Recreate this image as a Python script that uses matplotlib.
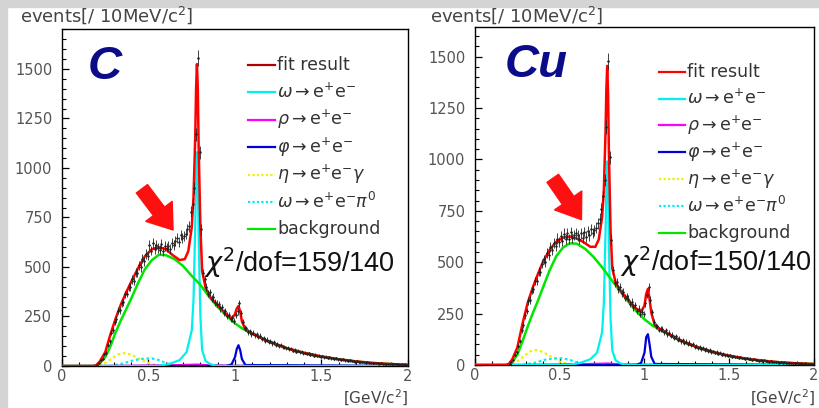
import numpy as np
import matplotlib.pyplot as plt
from matplotlib.lines import Line2D
from matplotlib.patches import Rectangle

plt.rcParams['mathtext.fontset'] = 'dejavusans'

# ---- shared mass grids (GeV/c^2) ----
fit_x = [0.0, 0.18, 0.20, 0.22, 0.25, 0.28, 0.31, 0.34, 0.37, 0.40,
         0.44, 0.48, 0.52, 0.56, 0.60, 0.64, 0.68, 0.71, 0.73, 0.75,
         0.76, 0.77, 0.775, 0.78, 0.785, 0.79, 0.80, 0.81, 0.83, 0.86,
         0.90, 0.95, 0.98, 1.00, 1.01, 1.02, 1.03, 1.04, 1.06, 1.10,
         1.20, 1.30, 1.40, 1.50, 1.60, 1.70, 1.80, 1.90, 2.00]
bkg_x = [0.0, 0.19, 0.22, 0.25, 0.28, 0.31, 0.34, 0.37, 0.40, 0.44, 0.48,
         0.52, 0.56, 0.60, 0.65, 0.70, 0.75, 0.80, 0.85, 0.90, 0.95, 1.00,
         1.05, 1.10, 1.20, 1.30, 1.40, 1.50, 1.60, 1.70, 1.80, 1.90, 2.00]
omega_x = [0.0, 0.55, 0.62, 0.68, 0.72, 0.75, 0.76, 0.77, 0.775, 0.78, 0.785,
           0.79, 0.80, 0.81, 0.83, 0.86, 0.90, 2.0]
phi_x = [0.0, 0.95, 0.98, 1.00, 1.01, 1.02, 1.03, 1.04, 1.06, 2.0]
rho_x = [0.0, 0.3, 0.5, 0.65, 0.75, 0.78, 0.85, 1.0, 1.3, 2.0]
eta_x = [0.0, 0.2, 0.25, 0.30, 0.33, 0.36, 0.40, 0.45, 0.50, 0.55, 2.0]
omd_x = [0.0, 0.28, 0.35, 0.42, 0.48, 0.52, 0.56, 0.60, 0.65, 2.0]

# ---- C target ----
c_fit = [0, 0, 5, 25, 70, 160, 240, 310, 370, 425,
         495, 555, 590, 600, 590, 560, 535, 540, 580, 700,
         850, 1150, 1400, 1525, 1400, 1100, 700, 480, 395, 345,
         305, 262, 238, 262, 290, 303, 275, 225, 185, 163,
         122, 90, 66, 48, 34, 23, 15, 10, 6]
c_bkg = [0, 0, 15, 45, 100, 170, 230, 285, 340, 420, 490,
         535, 562, 560, 540, 505, 455, 410, 350, 298, 255, 215,
         185, 163, 122, 90, 66, 48, 34, 23, 15, 10, 6]
c_omega = [0, 0, 10, 30, 70, 180, 330, 700, 950, 1080, 950, 650, 250, 80, 25, 8, 0, 0]
c_phi = [0, 0, 8, 45, 85, 105, 80, 35, 5, 0]
c_rho = [0, 1, 3, 5, 7, 8, 4, 2, 1, 0]
c_eta = [0, 0, 15, 45, 60, 65, 58, 35, 15, 3, 0]
c_omd = [0, 0, 12, 30, 38, 38, 30, 15, 3, 0]
c_data = [6, 13, 28, 37, 59, 66, 108, 124, 169, 181,
          222, 236, 279, 281, 318, 321, 362, 366, 401, 398,
          437, 430, 471, 469, 508, 498, 541, 530, 566, 558,
          611, 583, 620, 591, 612, 596, 588, 617, 579, 606,
          598, 605, 592, 620, 610, 632, 645, 628, 660, 648,
          655, 668, 690, 705, 780, 820, 900, 1170, 1555, 1080,
          690, 470, 441, 398, 366, 372, 340, 348, 322, 315,
          312, 292, 298, 270, 276, 255, 259, 236, 240, 226,
          256, 276, 318, 268, 224, 192, 190, 172, 176, 161,
          168, 155, 161, 146, 152, 136, 142, 128, 133, 121,
          126, 114, 119, 106, 111, 100, 106, 94, 98, 89,
          93, 84, 88, 78, 82, 73, 77, 69, 72, 64,
          68, 61, 64, 56, 60, 53, 56, 50, 52, 46,
          50, 44, 47, 41, 44, 38, 41, 36, 38, 33,
          36, 31, 33, 28, 31, 26, 28, 24, 26, 22,
          24, 21, 22, 18, 20, 17, 19, 16, 17, 14,
          16, 13, 15, 12, 14, 11, 12, 10, 12, 9,
          11, 8, 10, 8, 9, 7, 8, 6, 8, 6]

# ---- Cu target ----
cu_fit = [0, 0, 5, 28, 85, 200, 300, 375, 440, 500,
          560, 600, 620, 625, 615, 598, 575, 575, 610, 720,
          850, 1130, 1340, 1455, 1320, 1030, 650, 470, 400, 360,
          318, 275, 258, 290, 345, 370, 320, 255, 195, 170,
          124, 90, 64, 45, 31, 21, 13, 8, 5]
cu_bkg = [0, 0, 15, 50, 115, 185, 250, 310, 375, 460, 530,
          572, 592, 590, 565, 525, 475, 420, 365, 312, 262, 222,
          190, 168, 122, 89, 63, 44, 30, 20, 13, 8, 5]
cu_omega = [0, 0, 10, 28, 60, 160, 300, 640, 880, 990, 870, 580, 220, 70, 22, 7, 0, 0]
cu_phi = [0, 0, 10, 60, 135, 150, 100, 40, 5, 0]
cu_rho = [0, 1, 3, 5, 7, 8, 4, 2, 1, 0]
cu_eta = [0, 0, 18, 50, 68, 73, 64, 40, 17, 3, 0]
cu_omd = [0, 0, 10, 27, 33, 32, 25, 12, 2, 0]
cu_data = [4, 17, 25, 51, 62, 91, 117, 170, 193, 241,
           262, 311, 316, 362, 368, 409, 409, 453, 452, 492,
           514, 501, 546, 535, 575, 560, 594, 577, 615, 598,
           628, 604, 639, 611, 640, 613, 648, 617, 633, 640,
           630, 612, 640, 620, 646, 625, 652, 630, 660, 642,
           655, 668, 690, 712, 760, 820, 900, 1160, 1480, 1010,
           610, 462, 398, 402, 368, 377, 349, 356, 328, 334,
           322, 297, 306, 281, 291, 263, 274, 250, 259, 248,
           300, 342, 380, 318, 258, 211, 190, 188, 172, 176,
           175, 159, 168, 150, 157, 141, 148, 132, 139, 123,
           128, 115, 121, 108, 114, 102, 109, 95, 101, 89,
           93, 84, 89, 79, 83, 73, 78, 68, 72, 63,
           66, 59, 63, 55, 59, 51, 55, 47, 51, 44,
           47, 41, 44, 38, 41, 35, 38, 33, 35, 30,
           33, 28, 31, 25, 28, 23, 26, 21, 24, 19,
           22, 19, 20, 16, 18, 15, 17, 14, 15, 12,
           14, 11, 13, 10, 12, 9, 11, 8, 10, 8,
           9, 7, 8, 6, 8, 5, 7, 5, 6, 4]

bin_x = np.round(np.arange(0.205, 2.0, 0.01), 3)

labels = ['fit result', r'$\omega\rightarrow\mathrm{e^{+}e^{-}}$',
          r'$\rho\rightarrow\mathrm{e^{+}e^{-}}$', r'$\varphi\rightarrow\mathrm{e^{+}e^{-}}$',
          r'$\eta\rightarrow\mathrm{e^{+}e^{-}}\gamma$',
          r'$\omega\rightarrow\mathrm{e^{+}e^{-}}\pi^{0}$', 'background']

RED, CYAN, MAG, BLUE, YEL, GRN = '#ff0000', '#00f0f0', '#ff00ff', '#0000dd', '#f0f000', '#00e600'
GRAY = '#d4d4d4'
TXT = '#444444'


def panel(ax, fit, bkg, om, ph, rh, et, od, data, ymax, name, chi, fitleg, arrow, leg_pos):
    ax.plot(eta_x, et, color=YEL, lw=1.6, ls=(0, (1.2, 1.2)), zorder=2)
    ax.plot(omd_x, od, color=CYAN, lw=1.6, ls=(0, (1.2, 1.2)), zorder=2)
    ax.plot(rho_x, rh, color=MAG, lw=1.4, zorder=2)
    ax.plot(phi_x, ph, color=BLUE, lw=1.6, zorder=3)
    ax.plot(omega_x, om, color=CYAN, lw=1.6, zorder=3)
    ax.plot(bkg_x, bkg, color=GRN, lw=1.8, zorder=4)
    ax.plot(fit_x, fit, color=RED, lw=1.8, zorder=5)
    d = np.array(data, dtype=float)
    ax.errorbar(bin_x, d, yerr=np.sqrt(d), xerr=0.005, fmt='.', ms=1.5,
                color='#222222', elinewidth=0.6, capsize=0, zorder=6)

    ax.set_xlim(0, 2)
    ax.set_ylim(0, ymax)
    ax.set_xticks([0, 0.5, 1, 1.5, 2])
    ax.set_xticklabels(['0', '0.5', '1', '1.5', '2'])
    ax.set_xticks(np.arange(0, 2.01, 0.1), minor=True)
    ax.set_yticks([0, 250, 500, 750, 1000, 1250, 1500])
    ax.set_yticks(np.arange(0, ymax, 50), minor=True)
    ax.tick_params(which='both', direction='in', top=False, right=False,
                   labelsize=10.5, labelcolor='#555555')
    ax.tick_params(which='major', length=5, width=0.9)
    ax.tick_params(which='minor', length=3, width=0.8)
    ax.tick_params(axis='x', pad=2)
    ax.tick_params(axis='y', pad=7)
    for s in ax.spines.values():
        s.set_linewidth(1.0)

    # hand-placed legend (ROOT style)
    styles = [(fitleg, '-'), (CYAN, '-'), (MAG, '-'), (BLUE, '-'),
              (YEL, (0, (1, 1))), (CYAN, (0, (1, 1))), (GRN, '-')]
    x0, x1, xt, y0, dy = leg_pos
    for i, (lab, (col, ls)) in enumerate(zip(labels, styles)):
        y = y0 - i * dy
        ax.add_line(Line2D([x0, x1], [y, y], color=col, lw=1.6, ls=ls,
                           transform=ax.transAxes, clip_on=False))
        ax.text(xt, y, lab, transform=ax.transAxes, fontsize=12.5,
                color='#333333', va='center', ha='left')

    ax.text(name[1], 0.887, name[0], transform=ax.transAxes, fontsize=34,
            fontweight='bold', fontstyle='italic', color='#0c0c8a',
            family='Liberation Sans', va='center', ha='left')
    ax.text(chi[1], 0.305, chi[0], transform=ax.transAxes, fontsize=19.5,
            family='Liberation Sans', va='center', ha='left', color='#111111')
    ax.annotate('', xy=arrow[1], xytext=arrow[0],
                arrowprops=dict(arrowstyle='simple,head_length=0.6,head_width=0.85,tail_width=0.36',
                                color='#ff1010', mutation_scale=28, shrinkA=0, shrinkB=0),
                zorder=7)


fig = plt.figure(figsize=(8.2, 4.08), dpi=100)
fig.patches.append(Rectangle((0, 1 - 7 / 408), 1, 7 / 408, transform=fig.transFigure,
                             color=GRAY, zorder=0))
fig.patches.append(Rectangle((0, 0), 7 / 820, 1, transform=fig.transFigure,
                             color=GRAY, zorder=0))

ax1 = fig.add_axes([62 / 820, 1 - 366 / 408, 346 / 820, 337 / 408])
ax2 = fig.add_axes([475 / 820, 1 - 365 / 408, 339 / 820, 338 / 408])

panel(ax1, c_fit, c_bkg, c_omega, c_phi, c_rho, c_eta, c_omd, c_data, 1702,
      ('C', 0.075), (r'$\chi^{2}$/dof=159/140', 0.41), '#b00000',
      ((0.462, 895), (0.642, 687)),
      (0.5376, 0.6156, 0.6214, 1 - (65 - 29) / 337, 27.4 / 337))
panel(ax2, cu_fit, cu_bkg, cu_omega, cu_phi, cu_rho, cu_eta, cu_omd, cu_data, 1644,
      ('Cu', 0.088), (r'$\chi^{2}$/dof=150/140', 0.428), RED,
      ((0.459, 908), (0.628, 707)),
      (0.5428, 0.6195, 0.6254, 1 - (71.7 - 27) / 338, 26.8 / 338))

for x0 in (20, 430):
    fig.text(x0 / 820, 1 - 15 / 408, r'events[/ 10MeV/c$^{2}$]', fontsize=13,
             color=TXT, va='center', ha='left')
fig.text(408 / 820, 1 - 398 / 408, r'[GeV/c$^{2}$]', fontsize=11, color=TXT,
         va='center', ha='right')
fig.text(815 / 820, 1 - 398 / 408, r'[GeV/c$^{2}$]', fontsize=11, color=TXT,
         va='center', ha='right')

fig.savefig('out.png', dpi=100)
